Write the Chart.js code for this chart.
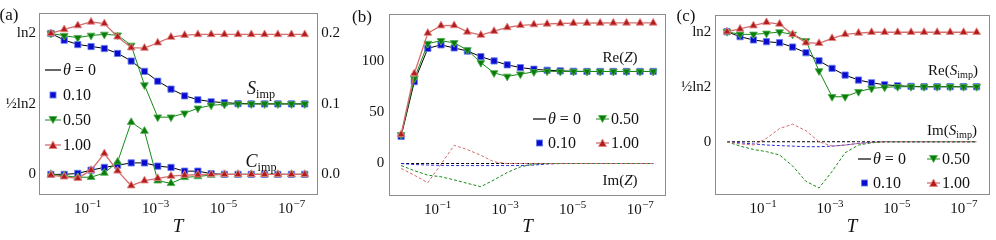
<!DOCTYPE html>
<html>
<head>
<meta charset="utf-8">
<script src="https://cdn.jsdelivr.net/npm/chart.js@4.4.1/dist/chart.umd.min.js"></script>
<style>
  html, body { margin: 0; padding: 0; background: #fff; }
  #wrap { position: relative; width: 996px; height: 240px; overflow: hidden;
          font-family: 'Liberation Serif', serif; color: #111; }
  #wrap canvas { position: absolute; left: 0; top: 0; }
  .t { position: absolute; white-space: nowrap; line-height: 1; transform: translate(-50%, -50%); }
  .leg { position: absolute; white-space: nowrap; line-height: 1; transform: translateY(-50%);
         display: flex; align-items: center; font-size: 16px; }
  .leg svg { margin-right: 2px; }
  sub { font-size: 0.68em; vertical-align: -0.3em; line-height: 0; }
</style>
</head>
<body>
<div id="wrap">
  <canvas id="chartA" width="996" height="240"></canvas>
  <canvas id="chartB" width="996" height="240"></canvas>
  <canvas id="chartC" width="996" height="240"></canvas>
  <div id="notes"></div>
</div>
<script>
// temperature grid (log10 T) shared by all panels
const logT = [0.07, -0.32, -0.72, -1.11, -1.50, -1.89, -2.29, -2.68, -3.07, -3.46,
              -3.86, -4.25, -4.64, -5.03, -5.43, -5.82, -6.21, -6.60, -7.00, -7.39];
const xTicks = [-1, -3, -5, -7];
const xTickBase = '10';
const xTickExps = ['−1', '−3', '−5', '−7'];

// (a) S_imp in units of ln2
const sTheta0   = [1.0, 0.953, 0.922, 0.908, 0.894, 0.859, 0.805, 0.732, 0.662, 0.606, 0.558, 0.530, 0.516, 0.509, 0.503, 0.501, 0.5, 0.5, 0.5, 0.5];
const sTheta10  = [1.0, 0.952, 0.921, 0.907, 0.893, 0.858, 0.804, 0.731, 0.661, 0.605, 0.557, 0.529, 0.515, 0.508, 0.502, 0.5, 0.5, 0.5, 0.5, 0.5];
const sTheta50  = [1.0, 0.984, 0.970, 0.986, 0.993, 0.988, 0.915, 0.634, 0.406, 0.406, 0.434, 0.469, 0.490, 0.497, 0.5, 0.5, 0.5, 0.5, 0.5, 0.5];
const sTheta100 = [1.0, 1.028, 1.056, 1.082, 1.070, 0.976, 0.899, 0.896, 0.934, 0.974, 0.988, 0.993, 0.993, 0.993, 0.993, 0.993, 0.993, 0.993, 0.993, 0.993];
// (a) C_imp (right axis)
const cTheta0   = [0, 0, 0.0014, 0.006, 0.0099, 0.013, 0.0163, 0.0163, 0.0117, 0.0099, 0.0046, 0.0046, 0.001, 0, 0, 0, 0, 0, 0, 0];
const cTheta10  = [0, 0, 0.0014, 0.006, 0.0099, 0.013, 0.0163, 0.0163, 0.0117, 0.0099, 0.0046, 0.0046, 0.001, 0, 0, 0, 0, 0, 0, 0];
const cTheta50  = [0, -0.002, -0.004, -0.004, 0.002, 0.0177, 0.074, 0.0614, -0.009, -0.0127, -0.0042, -0.003, -0.001, 0, 0, 0, 0, 0, 0, 0];
const cTheta100 = [-0.001, -0.0034, -0.0056, 0.006, 0.0296, 0.005, -0.016, -0.009, -0.0056, -0.0024, -0.001, -0.0005, 0, 0, 0, 0, 0, 0, 0, 0];

// (b) Re(Z) and Im(Z)
const reZTheta0   = [26.5, 80, 112.6, 116, 113, 110, 104.5, 100.3, 96.5, 93.8, 92.2, 91.2, 90.6, 90.2, 90, 90, 90, 90, 90, 90];
const reZTheta10  = [26.5, 80, 112.6, 116, 113, 110, 104.5, 100.3, 96.5, 93.8, 92.2, 91.2, 90.6, 90.2, 90, 90, 90, 90, 90, 90];
const reZTheta50  = [28, 83, 117.3, 120, 118, 111, 98.6, 88.6, 85.2, 87.4, 89.6, 90.2, 90, 90, 90, 90, 90, 90, 90, 90];
const reZTheta100 = [28.4, 88, 127.5, 134.8, 135, 128.7, 125.6, 129.4, 133, 135.1, 135.9, 136.5, 136.9, 137.2, 137.3, 137.4, 137.5, 137.5, 137.5, 137.5];
const imZTheta0   = [0, 0, 0, 0, 0, 0, 0, 0, 0, 0, 0, 0, 0, 0, 0, 0, 0, 0, 0, 0];
const imZTheta10  = [0, -1, -1.5, -1.8, -2, -2, -2, -2, -2, -2, -1.5, -0.5, 0, 0, 0, 0, 0, 0, 0, 0];
const imZTheta50  = [-2, -7, -11.4, -13, -16, -19.4, -22.7, -16, -8.8, -3.3, -0.5, 0, 0, 0, 0, 0, 0, 0, 0, 0];
const imZTheta100 = [-4.9, -11.4, -18.8, -0.7, 17.8, 13.6, 8, 1.6, 0, 0, 0, 0, 0, 0, 0, 0, 0, 0, 0, 0];

// (c) Re(S_imp) and Im(S_imp) in units of ln2
const reSTheta0   = [1.0, 0.955, 0.925, 0.909, 0.9, 0.861, 0.809, 0.736, 0.667, 0.606, 0.561, 0.536, 0.518, 0.509, 0.503, 0.5, 0.5, 0.5, 0.5, 0.5];
const reSTheta10  = [1.0, 0.955, 0.925, 0.909, 0.9, 0.861, 0.809, 0.736, 0.667, 0.606, 0.561, 0.536, 0.518, 0.509, 0.503, 0.5, 0.5, 0.5, 0.5, 0.5];
const reSTheta50  = [1.0, 0.976, 0.976, 0.985, 0.997, 0.976, 0.918, 0.643, 0.409, 0.409, 0.455, 0.485, 0.495, 0.5, 0.5, 0.5, 0.5, 0.5, 0.5, 0.5];
const reSTheta100 = [1.0, 1.025, 1.055, 1.085, 1.07, 0.976, 0.9, 0.895, 0.94, 0.976, 0.988, 0.995, 0.995, 0.995, 0.995, 0.995, 0.995, 0.995, 0.995, 0.995];
const imSTheta0   = [0, 0, 0, 0, 0, 0, 0, 0, 0, 0, 0, 0, 0, 0, 0, 0, 0, 0, 0, 0];
const imSTheta10  = [0, -0.01, -0.02, -0.03, -0.035, -0.04, -0.045, -0.045, -0.04, -0.03, -0.015, -0.005, 0, 0, 0, 0, 0, 0, 0, 0];
const imSTheta50  = [0, -0.04, -0.07, -0.09, -0.12, -0.22, -0.36, -0.42, -0.27, -0.10, -0.03, -0.01, 0, 0, 0, 0, 0, 0, 0, 0];
const imSTheta100 = [0, -0.02, -0.03, 0.03, 0.12, 0.16, 0.10, 0.0, -0.04, -0.03, -0.015, -0.005, 0, 0, 0, 0, 0, 0, 0, 0];

// y tick labels
const sTicks = [0, 0.5, 1];
const sTickLabels = ['0', '½ln2', 'ln2'];
const cTicks = [0, 0.1, 0.2];
const cTickLabels = ['0.0', '0.1', '0.2'];
const zTicks = [0, 50, 100];
const zTickLabels = ['0', '50', '100'];

// colours
const BLUE = '#0b0bd0', BLUE_EDGE = 'rgba(100,125,240,0.85)', BLUE_DASH = '#2a2ad8';
const GREEN = '#0a7c0a', GREEN_EDGE = 'rgba(80,175,80,0.85)', GREEN_LINE = '#168a16';
const RED = '#b21e1e', RED_EDGE = 'rgba(228,135,135,0.9)', RED_LINE = '#d46c6c';
const FONT = 'Liberation Serif';

const pts = v => logT.map((x, i) => ({ x: x, y: v[i] }));

function blackLine(v, axis) {
  return { data: pts(v), yAxisID: axis, showLine: true, borderColor: '#000', borderWidth: 1,
           pointRadius: 0, order: 4 };
}
function dashLine(v, color, order) {
  return { data: pts(v), yAxisID: 'y', showLine: true, borderColor: color, borderWidth: 1,
           borderDash: [3, 2], pointRadius: 0, order: order };
}
function blueMarks(v, axis) {
  return { data: pts(v), yAxisID: axis, showLine: false, pointStyle: 'rect', pointRadius: 4.4,
           pointBackgroundColor: BLUE, pointBorderColor: BLUE_EDGE, pointBorderWidth: 1, order: 3 };
}
function greenMarks(v, axis, rot) {
  return { data: pts(v), yAxisID: axis, showLine: true, borderColor: GREEN_LINE, borderWidth: 1,
           pointStyle: 'triangle', pointRotation: rot, pointRadius: 4.5,
           pointBackgroundColor: GREEN, pointBorderColor: GREEN_EDGE, pointBorderWidth: 1, order: 2 };
}
function redMarks(v, axis) {
  return { data: pts(v), yAxisID: axis, showLine: true, borderColor: RED_LINE, borderWidth: 1.3,
           pointStyle: 'triangle', pointRadius: 4.5,
           pointBackgroundColor: RED, pointBorderColor: RED_EDGE, pointBorderWidth: 1, order: 1 };
}

// box round the plot area
const frame = {
  id: 'frame',
  beforeDatasetsDraw(chart) {
    const { ctx, chartArea: a } = chart;
    ctx.save();
    ctx.strokeStyle = '#8c8c8c';
    ctx.lineWidth = 1;
    ctx.strokeRect(Math.round(a.left) + 0.5, Math.round(a.top) + 0.5,
                   Math.round(a.right - a.left), Math.round(a.bottom - a.top));
    ctx.restore();
  }
};

// x tick labels as 10 with a raised exponent, centred on the tick
const powerLabels = {
  id: 'powerLabels',
  afterDraw(chart) {
    const { ctx } = chart;
    const sx = chart.scales.x;
    const y = chart.chartArea.bottom + 19;
    ctx.save();
    ctx.fillStyle = '#111';
    ctx.textBaseline = 'alphabetic';
    ctx.textAlign = 'left';
    xTicks.forEach((v, i) => {
      ctx.font = '15px "' + FONT + '"';
      const wb = ctx.measureText(xTickBase).width;
      ctx.font = '11px "' + FONT + '"';
      const we = ctx.measureText(xTickExps[i]).width;
      const x0 = sx.getPixelForValue(v) - (wb + we) / 2;
      ctx.font = '15px "' + FONT + '"';
      ctx.fillText(xTickBase, x0, y);
      ctx.font = '11px "' + FONT + '"';
      ctx.fillText(xTickExps[i], x0 + wb + 0.5, y - 6.5);
    });
    ctx.restore();
  }
};

function yAxis(pos, min, max, ticks, labels, width, pad) {
  return {
    type: 'linear', position: pos, min: min, max: max,
    grid: { display: false, drawTicks: false }, border: { display: false },
    afterBuildTicks: s => { s.ticks = ticks.map(v => ({ value: v })); },
    afterFit: s => { s.width = width; },
    ticks: { callback: (v, i) => labels[i], color: '#111', padding: pad,
             font: { family: FONT, size: 15 } }
  };
}

function makePanel(id, geo, yScales, datasets) {
  const scales = {
    x: {
      type: 'linear', reverse: true, min: -7.76, max: 0.42,
      grid: { display: false, drawTicks: false }, border: { display: false },
      afterBuildTicks: s => { s.ticks = xTicks.map(v => ({ value: v })); },
      afterFit: s => { s.height = 240 - geo.bottom; },
      ticks: { display: false },
      title: { display: true, text: 'T', color: '#111', padding: { top: 0, bottom: 2 },
               font: { family: FONT, size: 19, style: 'italic' } }
    }
  };
  Object.assign(scales, yScales);
  new Chart(document.getElementById(id), {
    type: 'scatter',
    data: { datasets: datasets },
    options: {
      responsive: false, animation: false, events: [],
      layout: { autoPadding: false,
                padding: { left: geo.padLeft, right: geo.padRight, top: geo.top, bottom: 0 } },
      plugins: { legend: { display: false }, tooltip: { enabled: false } },
      scales: scales
    },
    plugins: [frame, powerLabels]
  });
}

// (a)
makePanel('chartA', { padLeft: 0, padRight: 645.7, top: 11.7, bottom: 194.4 }, {
  y: yAxis('left', -0.142, 1.145, sTicks, sTickLabels, 39, 3),
  y2: yAxis('right', -0.0284, 0.229, cTicks, cTickLabels, 33, 4)
}, [
  blackLine(sTheta0, 'y'), blackLine(cTheta0, 'y2'),
  blueMarks(sTheta10, 'y'), blueMarks(cTheta10, 'y2'),
  greenMarks(sTheta50, 'y', 180), greenMarks(cTheta50, 'y2', 0),
  redMarks(sTheta100, 'y'), redMarks(cTheta100, 'y2')
]);

// (b)
makePanel('chartB', { padLeft: 350, padRight: 330.3, top: 12.7, bottom: 195 }, {
  y: yAxis('left', -30.8, 146.2, zTicks, zTickLabels, 39.3, 5)
}, [
  dashLine(imZTheta0, '#000', 8), dashLine(imZTheta10, BLUE_DASH, 7),
  dashLine(imZTheta50, GREEN_LINE, 6), dashLine(imZTheta100, RED_LINE, 5),
  blackLine(reZTheta0, 'y'), blueMarks(reZTheta10, 'y'),
  greenMarks(reZTheta50, 'y', 180), redMarks(reZTheta100, 'y')
]);

// (c)
makePanel('chartC', { padLeft: 676, padRight: 7, top: 15, bottom: 194 }, {
  y: yAxis('left', -0.475, 1.152, sTicks, sTickLabels, 39.3, 4)
}, [
  dashLine(imSTheta0, '#000', 8), dashLine(imSTheta10, BLUE_DASH, 7),
  dashLine(imSTheta50, GREEN_LINE, 6), dashLine(imSTheta100, RED_LINE, 5),
  blackLine(reSTheta0, 'y'), blueMarks(reSTheta10, 'y'),
  greenMarks(reSTheta50, 'y', 180), redMarks(reSTheta100, 'y')
]);

// legend handles and labels written as html over the canvases
function handle(kind, len) {
  const c = len / 2;
  let s = '<svg width="' + len + '" height="10" viewBox="0 0 ' + len + ' 10">';
  if (kind === 'k') s += '<line x1="0" y1="5" x2="' + len + '" y2="5" stroke="#000" stroke-width="1.2"/>';
  if (kind === 'b') s += '<rect x="' + (c - 3) + '" y="2" width="6" height="6" fill="' + BLUE + '" stroke="' + BLUE_EDGE + '"/>';
  if (kind === 'g') s += '<line x1="0" y1="5" x2="' + len + '" y2="5" stroke="' + GREEN_LINE + '"/>' +
    '<polygon points="' + (c - 4) + ',1.5 ' + (c + 4) + ',1.5 ' + c + ',8.5" fill="' + GREEN + '" stroke="' + GREEN_EDGE + '"/>';
  if (kind === 'r') s += '<line x1="0" y1="5" x2="' + len + '" y2="5" stroke="' + RED_LINE + '" stroke-width="1.3"/>' +
    '<polygon points="' + c + ',1 ' + (c - 4) + ',8.5 ' + (c + 4) + ',8.5" fill="' + RED + '" stroke="' + RED_EDGE + '"/>';
  return s + '</svg>';
}

const notes = document.getElementById('notes');
function note(x, y, html, size) {
  const d = document.createElement('div');
  d.className = 't';
  d.style.left = x + 'px'; d.style.top = y + 'px'; d.style.fontSize = size + 'px';
  d.innerHTML = html;
  notes.appendChild(d);
}
function legItem(x, y, kind, len, text, size) {
  const d = document.createElement('div');
  d.className = 'leg';
  d.style.left = x + 'px'; d.style.top = y + 'px'; d.style.fontSize = size + 'px';
  d.innerHTML = handle(kind, len) + '<span>' + text + '</span>';
  notes.appendChild(d);
}

const theta0 = '<i>θ</i> = 0';

// panel letters
note(9, 14, '(a)', 17);
note(362, 16, '(b)', 17);
note(686, 15, '(c)', 17);

// (a) labels and legend
note(261, 88, '<i>S</i><sub>imp</sub>', 18);
note(261, 161, '<i>C</i><sub>imp</sub>', 18);
legItem(45, 69.5, 'k', 16, theta0, 16);
legItem(45, 94.5, 'b', 16, '0.10', 16);
legItem(45, 119.5, 'g', 16, '0.50', 16);
legItem(45, 145, 'r', 16, '1.00', 16);

// (b) labels and legend
note(620, 57, 'Re(<i>Z</i>)', 15);
note(620, 180, 'Im(<i>Z</i>)', 15);
legItem(533, 118.5, 'k', 13, theta0, 16);
legItem(596, 118.5, 'g', 13, '0.50', 16);
legItem(533, 143, 'b', 13, '0.10', 16);
legItem(596, 143, 'r', 13, '1.00', 16);

// (c) labels and legend
note(953, 70, 'Re(<i>S</i><sub>imp</sub>)', 15);
note(952, 130, 'Im(<i>S</i><sub>imp</sub>)', 15);
legItem(858, 158.5, 'k', 13, theta0, 16);
legItem(927, 158.5, 'g', 13, '0.50', 16);
legItem(858, 182.5, 'b', 13, '0.10', 16);
legItem(927, 182.5, 'r', 13, '1.00', 16);
</script>
</body>
</html>
